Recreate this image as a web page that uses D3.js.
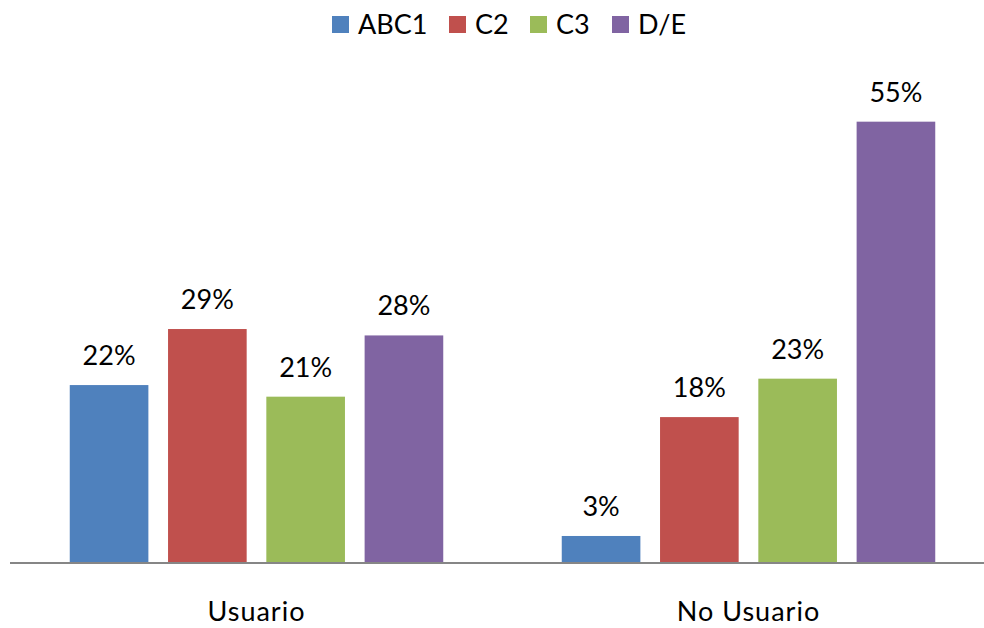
<!DOCTYPE html>
<html>
<head>
<meta charset="utf-8">
<script src="https://cdn.jsdelivr.net/npm/d3@7"></script>
<style>
  html, body { margin: 0; padding: 0; background: #fff; }
  svg { display: block; }
  text { font-family: Lato, "Open Sans", sans-serif; fill: #000; }
</style>
</head>
<body>
<svg id="chart" width="984" height="628"></svg>
<script>
const categories = ["Usuario", "No Usuario"];
const series = ["ABC1", "C2", "C3", "D/E"];
const colors = ["#4F81BD", "#C0504D", "#9BBB59", "#8064A2"];
// values in percent, one array per series (Usuario, No Usuario)
const abc1 = [22.1, 3.25];
const c2 = [29.1, 18.1];
const c3 = [20.65, 22.9];
const de = [28.3, 55];
const seriesValues = [abc1, c2, c3, de];

const W = 984, H = 628;
const svg = d3.select("#chart");

const baseY = 562;
const y = d3.scaleLinear().domain([0, 60]).range([baseY, baseY - 60 * 8.006]);

const x0 = d3.scaleBand().domain(categories).range([10.5, 994.5]).paddingInner(0).paddingOuter(0);
const groupW = 373.5;
const x1 = d3.scaleBand().domain(series).range([0, groupW]).paddingInner(0.2).paddingOuter(0);
const groupOffset = (x0.bandwidth() - groupW) / 2;

const data = [];
categories.forEach((c, ci) => {
  series.forEach((s, si) => {
    data.push({ cat: c, ser: s, v: seriesValues[si][ci], color: colors[si] });
  });
});

const fs = 27;

svg.append("g").selectAll("rect").data(data).join("rect")
  .attr("x", d => x0(d.cat) + groupOffset + x1(d.ser))
  .attr("y", d => y(d.v))
  .attr("width", x1.bandwidth())
  .attr("height", d => y(0) - y(d.v))
  .attr("fill", d => d.color);

svg.append("g").selectAll("text").data(data).join("text")
  .attr("x", d => x0(d.cat) + groupOffset + x1(d.ser) + x1.bandwidth() / 2)
  .attr("y", d => y(d.v) - 20)
  .attr("text-anchor", "middle")
  .style("font-size", fs + "px")
  .text(d => Math.round(d.v) + "%");

// baseline axis
const xAxis = d3.axisBottom(x0).tickSize(0).tickPadding(0).tickFormat("");
const axG = svg.append("g").attr("transform", `translate(0,${baseY + 1})`).call(xAxis);
axG.select(".domain").attr("stroke", "#868686").attr("stroke-width", 2).attr("d", `M10,0H${W}`);

svg.append("g").selectAll("text.cat").data(categories).join("text")
  .attr("class", "cat")
  .attr("x", d => x0(d) + x0.bandwidth() / 2)
  .attr("y", 621)
  .attr("text-anchor", "middle")
  .style("font-size", "27px")
  .style("letter-spacing", "1px")
  .text(d => d);

// legend
const legendX = [332, 449, 530, 612];
const lg = svg.append("g").selectAll("g").data(series).join("g")
  .attr("transform", (d, i) => `translate(${legendX[i]},0)`);
lg.append("rect").attr("x", 0).attr("y", 16).attr("width", 17).attr("height", 17)
  .attr("fill", (d, i) => colors[i]);
lg.append("text").attr("x", 26).attr("y", 34).style("font-size", fs + "px").text(d => d);
</script>
</body>
</html>
